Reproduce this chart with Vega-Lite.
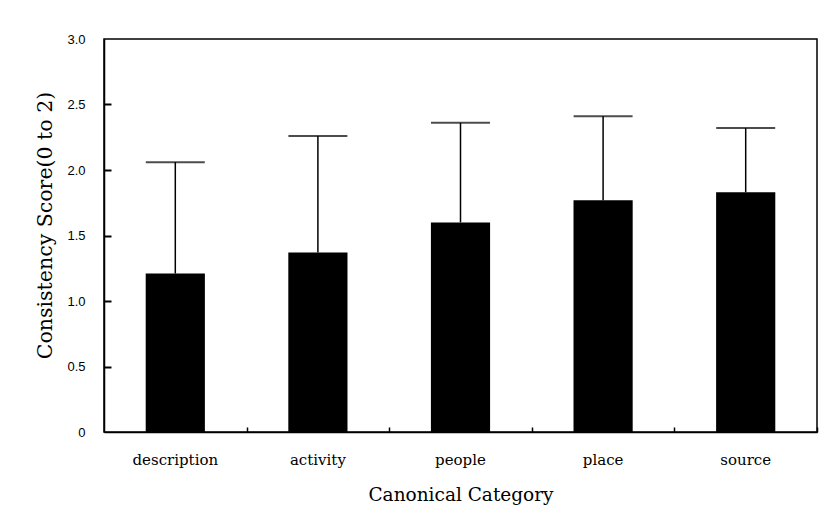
{
  "$schema": "https://vega.github.io/schema/vega-lite/v6.json",
  "autosize": "none",
  "width": 713,
  "height": 393,
  "padding": {"left": 104, "top": 39, "right": 13, "bottom": 94},
  "background": "white",
  "config": {
    "view": {"stroke": "black", "strokeWidth": 1.5},
    "axis": {"domainColor": "black", "labelColor": "black", "titleColor": "black", "grid": false, "titleFontWeight": "normal"}
  },
  "data": {
    "values": [
      {"category": "description", "mean": 1.21, "upper": 2.06},
      {"category": "activity", "mean": 1.37, "upper": 2.26},
      {"category": "people", "mean": 1.6, "upper": 2.36},
      {"category": "place", "mean": 1.77, "upper": 2.41},
      {"category": "source", "mean": 1.83, "upper": 2.32}
    ]
  },
  "resolve": {"axis": {"x": "independent", "y": "independent"}},
  "layer": [
    {
      "mark": {"type": "bar", "color": "black"},
      "encoding": {
        "x": {
          "field": "category",
          "type": "nominal",
          "sort": null,
          "scale": {"paddingInner": 0.585, "paddingOuter": 0.2925},
          "axis": {
            "orient": "bottom",
            "title": "Canonical Category",
            "labelAngle": 0,
            "labelFont": "DejaVu Serif",
            "labelFontSize": 15,
            "labelPadding": 20,
            "ticks": false,
            "domainWidth": 1.5,
            "titleFont": "DejaVu Serif",
            "titleFontSize": 18.5,
            "titlePadding": 18
          }
        },
        "y": {
          "field": "mean",
          "type": "quantitative",
          "scale": {"domain": [0, 3]},
          "axis": {
            "orient": "left",
            "title": "Consistency Score(0 to 2)",
            "values": [0, 0.5, 1, 1.5, 2, 2.5, 3],
            "labelExpr": "datum.value === 0 ? '0' : format(datum.value, '.1f')",
            "labelFont": "Liberation Sans",
            "labelFontSize": 13,
            "labelPadding": 19,
            "ticks": false,
            "domainWidth": 1.5,
            "titleFont": "DejaVu Serif",
            "titleFontSize": 20.5,
            "titlePadding": 11,
            "titleY": 186
          }
        }
      }
    },
    {
      "mark": {"type": "rule", "color": "black", "strokeWidth": 1.5},
      "encoding": {
        "x": {
          "field": "category",
          "type": "nominal",
          "sort": null,
          "axis": {
            "orient": "bottom",
            "offset": -5,
            "ticks": true,
            "tickColor": "black",
            "tickSize": 5,
            "tickWidth": 1.5,
            "tickOffset": 71.3,
            "labels": false,
            "domain": false,
            "title": null
          }
        },
        "y": {
          "field": "mean",
          "type": "quantitative",
          "axis": {
            "orient": "left",
            "offset": -7,
            "values": [0.5, 1, 1.5, 2, 2.5],
            "ticks": true,
            "tickColor": "black",
            "tickSize": 7,
            "tickWidth": 2,
            "labels": false,
            "domain": false,
            "title": null
          }
        },
        "y2": {"field": "upper"}
      }
    },
    {
      "mark": {"type": "tick", "color": "black", "thickness": 2, "size": 59, "orient": "horizontal"},
      "encoding": {
        "x": {"field": "category", "type": "nominal", "sort": null, "axis": null},
        "y": {"field": "upper", "type": "quantitative", "axis": null}
      }
    }
  ]
}
